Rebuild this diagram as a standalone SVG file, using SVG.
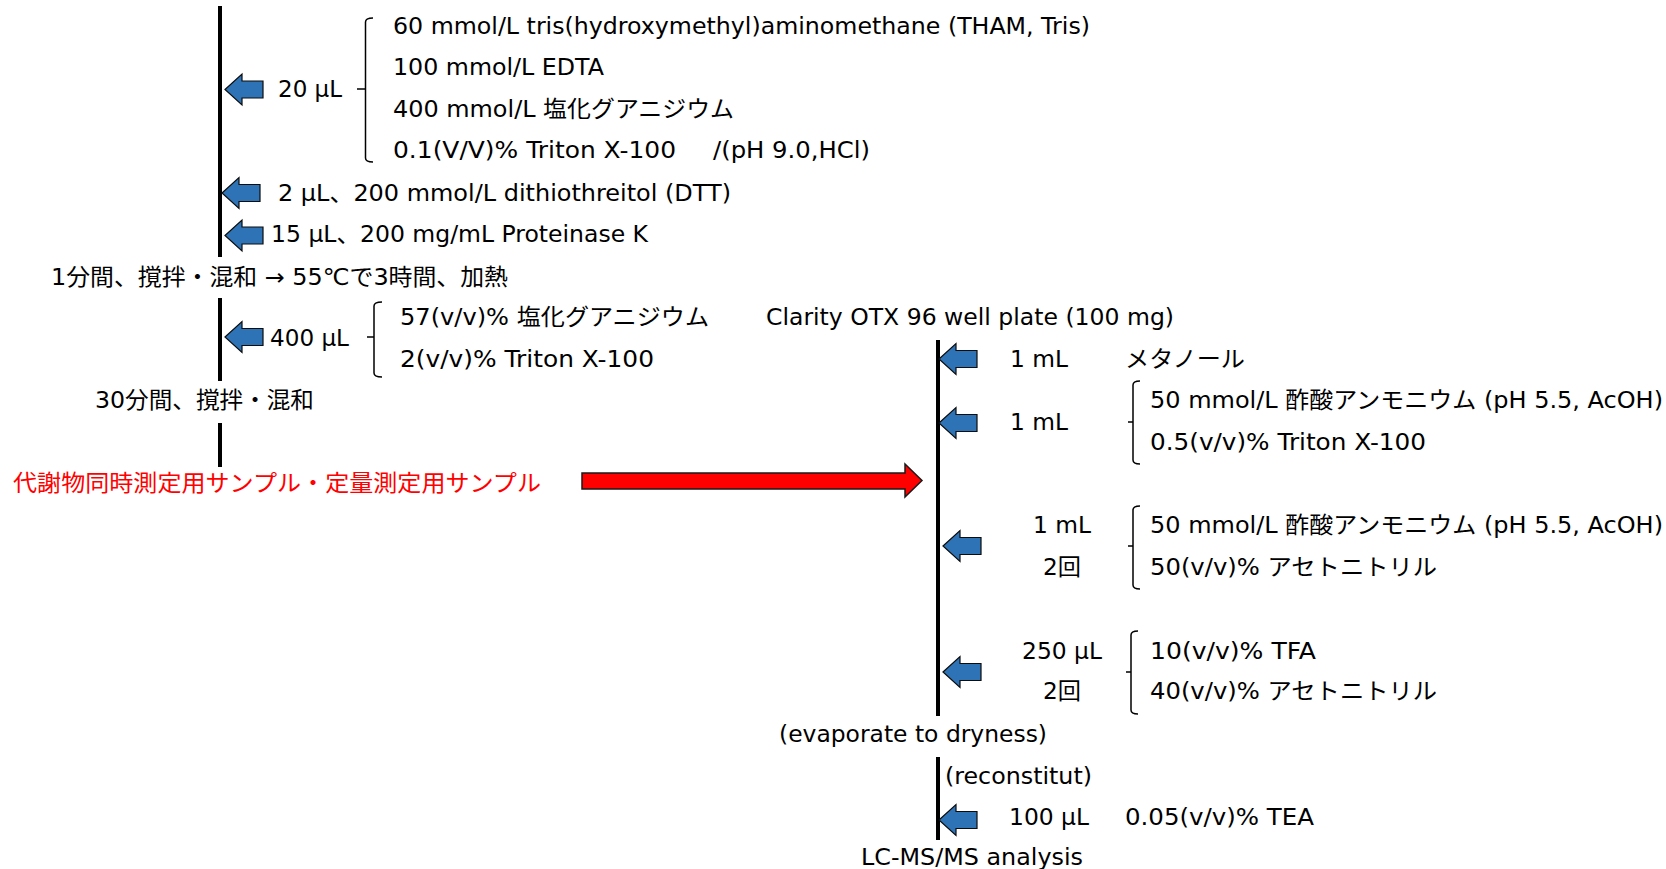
<svg xmlns="http://www.w3.org/2000/svg" xmlns:xlink="http://www.w3.org/1999/xlink" width="1666" height="869" viewBox="0 0 1666 869">
<style>
text{font-family:"DejaVu Sans","Noto Sans CJK JP",sans-serif;font-size:23px;fill:#000}
.red{fill:#FF0000}
.flow{stroke:#000;stroke-width:4;fill:none}
.brk{stroke:#000;stroke-width:1.5;fill:none}
.barrow{fill:#2E73B5;stroke:#0d0d0d;stroke-width:1.2}
.rarrow{fill:#FF0000;stroke:#1a1a1a;stroke-width:1.5}
</style>
<defs>
<path id="ba" d="M0,0 L17,-15.5 L17,-8.5 L38,-8.5 L38,8.5 L17,8.5 L17,15.5 Z"/>
</defs>
<rect width="1666" height="869" fill="#fff"/>
<g id="connectors">
<line class="flow" x1="220" y1="6" x2="220" y2="257"/>
<line class="flow" x1="220" y1="298" x2="220" y2="381"/>
<line class="flow" x1="220" y1="423" x2="220" y2="467"/>
<line class="flow" x1="938" y1="340" x2="938" y2="716"/>
<line class="flow" x1="938" y1="757" x2="938" y2="840"/>
<use href="#ba" class="barrow" x="225" y="89.5"/>
<use href="#ba" class="barrow" x="222" y="193"/>
<use href="#ba" class="barrow" x="225" y="235.5"/>
<use href="#ba" class="barrow" x="225" y="337"/>
<use href="#ba" class="barrow" x="939" y="359"/>
<use href="#ba" class="barrow" x="939" y="423"/>
<use href="#ba" class="barrow" x="943" y="546"/>
<use href="#ba" class="barrow" x="943" y="672"/>
<use href="#ba" class="barrow" x="939" y="820"/>
<path class="rarrow" d="M582,473 L905,473 L905,464 L922,480.5 L905,497 L905,489 L582,489 Z"/>
</g>
<g id="step1">
<text x="278" y="97" textLength="64" lengthAdjust="spacingAndGlyphs">20 µL</text>
<path class="brk" d="M373,18 Q365.5,18 365.5,22 L365.5,158 Q365.5,162 373,162 M357,89 L365.5,89"/>
<text x="393" y="34" textLength="697" lengthAdjust="spacingAndGlyphs">60 mmol/L tris(hydroxymethyl)aminomethane (THAM, Tris)</text>
<text x="393" y="75" textLength="211" lengthAdjust="spacingAndGlyphs">100 mmol/L EDTA</text>
<text x="393" y="117" textLength="341" lengthAdjust="spacingAndGlyphs">400 mmol/L 塩化グアニジウム</text>
<text x="393" y="158" textLength="283" lengthAdjust="spacingAndGlyphs">0.1(V/V)% Triton X-100</text>
<text x="713" y="158" textLength="157" lengthAdjust="spacingAndGlyphs">/(pH 9.0,HCl)</text>
</g>
<g id="step2">
<text x="278" y="201" textLength="453" lengthAdjust="spacingAndGlyphs">2 µL、200 mmol/L dithiothreitol (DTT)</text>
</g>
<g id="step3">
<text x="271" y="242" textLength="377" lengthAdjust="spacingAndGlyphs">15 µL、200 mg/mL Proteinase K</text>
</g>
<g id="step4">
<text x="51" y="285" textLength="457" lengthAdjust="spacingAndGlyphs">1分間、撹拌・混和 → 55℃で3時間、加熱</text>
</g>
<g id="step5">
<text x="270" y="346" textLength="79" lengthAdjust="spacingAndGlyphs">400 µL</text>
<path class="brk" d="M382,302 Q374,302 374,306 L374,373 Q374,377 382,377 M367,337 L374,337"/>
<text x="400" y="325" textLength="309" lengthAdjust="spacingAndGlyphs">57(v/v)% 塩化グアニジウム</text>
<text x="400" y="367" textLength="254" lengthAdjust="spacingAndGlyphs">2(v/v)% Triton X-100</text>
</g>
<g id="step6">
<text x="95" y="408" textLength="219" lengthAdjust="spacingAndGlyphs">30分間、撹拌・混和</text>
</g>
<g id="sample">
<text class="red" x="13" y="491" textLength="528" lengthAdjust="spacingAndGlyphs">代謝物同時測定用サンプル・定量測定用サンプル</text>
</g>
<g id="plate">
<text x="766" y="325" textLength="408" lengthAdjust="spacingAndGlyphs">Clarity OTX 96 well plate (100 mg)</text>
</g>
<g id="methanol">
<text x="1010" y="367" textLength="58" lengthAdjust="spacingAndGlyphs">1 mL</text>
<text x="1125" y="367" textLength="120" lengthAdjust="spacingAndGlyphs">メタノール</text>
</g>
<g id="wash1">
<text x="1010" y="430" textLength="58" lengthAdjust="spacingAndGlyphs">1 mL</text>
<path class="brk" d="M1140,381 Q1133,381 1133,385 L1133,460 Q1133,464 1140,464 M1128,422 L1133,422"/>
<text x="1150" y="408" textLength="513" lengthAdjust="spacingAndGlyphs">50 mmol/L 酢酸アンモニウム (pH 5.5, AcOH)</text>
<text x="1150" y="450" textLength="276" lengthAdjust="spacingAndGlyphs">0.5(v/v)% Triton X-100</text>
</g>
<g id="wash2">
<text x="1033" y="533" textLength="58" lengthAdjust="spacingAndGlyphs">1 mL</text>
<text x="1043" y="575" textLength="38" lengthAdjust="spacingAndGlyphs">2回</text>
<path class="brk" d="M1140,506 Q1133,506 1133,510 L1133,585 Q1133,589 1140,589 M1128,546 L1133,546"/>
<text x="1150" y="533" textLength="513" lengthAdjust="spacingAndGlyphs">50 mmol/L 酢酸アンモニウム (pH 5.5, AcOH)</text>
<text x="1150" y="575" textLength="287" lengthAdjust="spacingAndGlyphs">50(v/v)% アセトニトリル</text>
</g>
<g id="elute">
<text x="1022" y="659" textLength="80" lengthAdjust="spacingAndGlyphs">250 µL</text>
<text x="1043" y="699" textLength="38" lengthAdjust="spacingAndGlyphs">2回</text>
<path class="brk" d="M1138,631 Q1131,631 1131,635 L1131,710 Q1131,714 1138,714 M1126,672 L1131,672"/>
<text x="1150" y="659" textLength="166" lengthAdjust="spacingAndGlyphs">10(v/v)% TFA</text>
<text x="1150" y="699" textLength="287" lengthAdjust="spacingAndGlyphs">40(v/v)% アセトニトリル</text>
</g>
<g id="evaporate">
<text x="779" y="742" textLength="268" lengthAdjust="spacingAndGlyphs">(evaporate to dryness)</text>
</g>
<g id="reconstitute">
<text x="945" y="784" textLength="147" lengthAdjust="spacingAndGlyphs">(reconstitut)</text>
<text x="1009" y="825" textLength="80" lengthAdjust="spacingAndGlyphs">100 µL</text>
<text x="1125" y="825" textLength="189" lengthAdjust="spacingAndGlyphs">0.05(v/v)% TEA</text>
</g>
<g id="analysis">
<text x="861" y="865" textLength="222" lengthAdjust="spacingAndGlyphs">LC-MS/MS analysis</text>
</g>
</svg>
